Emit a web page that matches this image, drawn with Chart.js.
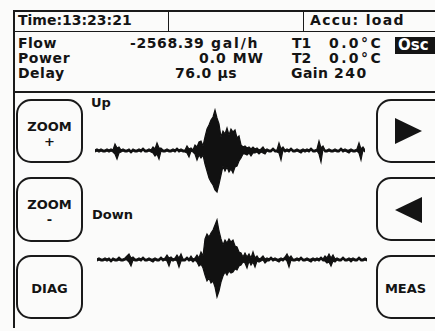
<!DOCTYPE html>
<html>
<head>
<meta charset="utf-8">
<script src="https://cdn.jsdelivr.net/npm/chart.js@4.4.1/dist/chart.umd.min.js"></script>
<style>
  body { margin: 0; background: #fbfbfa; }
  #screen { position: relative; width: 435px; height: 331px; overflow: hidden;
            font-family: "DejaVu Sans", sans-serif; font-weight: bold; color: #141414; }
  .t { position: absolute; font-size: 14px; line-height: 16px; white-space: pre; }
  .ln { position: absolute; background: #1a1a1a; }
  .btn { position: absolute; box-sizing: border-box; border: 2px solid #1a1a1a; border-radius: 15px;
         font-size: 13px; text-align: center; }
  .btn span { position: absolute; left: 0; right: 0; line-height: 14px; }
  .osc { position: absolute; left: 395px; top: 37px; width: 45px; height: 17px; background: #141414;
         color: #fff; font-size: 15px; line-height: 17px; padding-left: 3px; }
  .tri { position: absolute; width: 0; height: 0; border-top: 13px solid transparent; border-bottom: 13px solid transparent; }
  canvas { position: absolute; }
</style>
</head>
<body>
<div id="screen">
  <!-- frame -->
  <div class="ln" style="left:13px;top:10px;width:430px;height:2px"></div>
  <div class="ln" style="left:13px;top:10px;width:2px;height:318px"></div>
  <div class="ln" style="left:13px;top:31px;width:430px;height:1px"></div>
  <div class="ln" style="left:168px;top:10px;width:1px;height:22px"></div>
  <div class="ln" style="left:303px;top:10px;width:1px;height:22px"></div>
  <div class="ln" style="left:13px;top:91px;width:430px;height:2px"></div>

  <div class="t" style="left:18px;top:12px">Time:13:23:21</div>
  <div class="t" style="left:310px;top:12px;letter-spacing:1.3px">Accu: load</div>

  <div class="t" style="left:18px;top:35px;letter-spacing:0.5px">Flow</div>
  <div class="t" style="left:130px;top:35px;letter-spacing:0.6px">-2568.39</div>
  <div class="t" style="left:211px;top:35px;letter-spacing:1.8px">gal/h</div>
  <div class="t" style="left:292px;top:35px">T1</div>
  <div class="t" style="left:329px;top:35px;letter-spacing:2.4px">0.0°C</div>
  <div class="osc">Osc</div>

  <div class="t" style="left:18px;top:50px;letter-spacing:0.6px">Power</div>
  <div class="t" style="left:199px;top:50px;letter-spacing:1px">0.0 MW</div>
  <div class="t" style="left:292px;top:50px">T2</div>
  <div class="t" style="left:329px;top:50px;letter-spacing:2.4px">0.0°C</div>

  <div class="t" style="left:18px;top:65px;letter-spacing:0.5px">Delay</div>
  <div class="t" style="left:175px;top:65px;letter-spacing:0.6px">76.0 µs</div>
  <div class="t" style="left:291px;top:65px;letter-spacing:0.4px">Gain</div>
  <div class="t" style="left:334px;top:65px;letter-spacing:1.5px">240</div>

  <div class="t" style="left:91px;top:95px;font-size:13px">Up</div>
  <div class="t" style="left:92px;top:207px;font-size:13px">Down</div>

  <div class="btn" style="left:16px;top:99px;width:67px;height:64px"><span style="top:19px">ZOOM</span><span style="top:34px">+</span></div>
  <div class="btn" style="left:16px;top:177px;width:67px;height:65px"><span style="top:19px">ZOOM</span><span style="top:34px">-</span></div>
  <div class="btn" style="left:16px;top:255px;width:67px;height:64px"><span style="top:25px">DIAG</span></div>

  <div class="btn" style="left:376px;top:99px;width:75px;height:64px"></div>
  <div class="btn" style="left:376px;top:177px;width:75px;height:64px"></div>
  <div class="btn" style="left:376px;top:255px;width:75px;height:64px"><span style="top:25px;right:16px">MEAS</span></div>
  <div class="tri" style="left:395px;top:118px;border-left:27px solid #141414"></div>
  <div class="tri" style="left:395px;top:197px;border-right:27px solid #141414"></div>

  <canvas id="upChart" width="270" height="100" style="left:95px;top:101px"></canvas>
  <canvas id="downChart" width="270" height="100" style="left:97px;top:210px"></canvas>
</div>
<script>
// received ultrasonic signals as min/max per display column (one column every 2 px)
const upHigh = [
  1, 2, 1, 2, 1, 1, 2, 1, 2, 1,
  7, 3, 4, 1, 2, 1, 1, 2, 0, 2,
  1, 1, 2, 1, 3, 1, 1, 2, 1, 4,
  2, 8, 3, 3, 1, 1, 2, 1, 1, 2,
  1, 3, 1, 2, 1, 1, 5, 2, 3, 1,
  6, 4, 9,
  10, 5, 14, 22, 26, 31, 34, 41, 33, 27, 14, 20, 17, 23, 16, 22, 19, 21, 13, 15, 6, 4,
  5, 3, 4, 2, 4, 2, 3, 1, 2, 4, 1,
  2, 1, 1, 3, 1, 1, 8, 2, 4, 1, 2, 1, 3, 1,
  1, 2, 1, 1, 2, 1, 2, 1, 3, 1, 1, 2, 10, 3, 5, 1, 1, 2, 1, 1,
  2, 1, 1, 3, 1, 2, 1, 1, 2, 1, 1, 2, 8, 2, 4, 1
];
const upLow = [
  -1, 0, -1, 0, -1, -1, 0, -1, 0, -1,
  -3, -8, -2, -1, 0, -1, -1, 0, -2, 0,
  -1, -1, 0, -1, 1, -1, -1, 0, -1, -2,
  -5, -3, -8, 0, -1, -1, 0, -1, -1, 0,
  -1, 1, -1, 0, -1, -1, -2, -6, 0, -1,
  -3, -9, -4,
  -7, -4, -13, -20, -27, -31, -34, -39, -41, -33, -24, -15, -20, -16, -21, -18, -22, -16, -15, -10, -7, -3,
  -3, -4, -2, -5, -2, -2, -1, -3, -1, -2, -3,
  0, -1, -1, 1, -1, -1, -2, -9, 1, -1, 0, -1, 1, -1,
  -1, 0, -1, -2, 0, -1, 0, -1, 1, -1, -1, 0, -3, -11, 2, -1, -1, 0, -1, -1,
  0, -1, -1, 1, -1, 0, -1, -2, 0, -1, -1, 0, -2, -9, 1, -1
];
const downHigh = [
  1, 2, 1, 1, 2, 1, 2, 0, 2, 1,
  1, 3, 1, 1, 2, 4, 6, 2, 3, 1,
  1, 2, 1, 3, 1, 1, 2, 1, 1, 2,
  1, 1, 3, 1, 2, 5, 2, 3, 1, 2,
  5, 2, 6, 1, 1, 3, 1, 4, 1, 2, 5, 2,
  8, 4, 21, 26, 23, 27, 30, 35, 40, 29, 21, 15, 20, 17, 21, 18, 20, 14, 13, 8, 7, 3,
  7, 3, 6, 2, 8, 2, 4, 1, 2, 4, 1, 2,
  1, 3, 1, 2, 1, 1, 2, 1, 3, 6, 2, 4, 1, 1,
  2, 1, 3, 1, 1, 2, 1, 1, 2, 1, 2, 1, 3, 1, 4, 2, 6, 2, 5, 1,
  2, 1, 1, 3, 1, 1, 2, 1, 2, 1, 1, 3, 1, 1, 2, 1
];
const downLow = [
  -1, 0, -1, -1, 0, -1, 0, -2, 0, -1,
  -1, 0, -1, -1, 0, 0, -2, -6, 0, -1,
  -1, 0, -1, 1, -1, -1, 0, -1, -2, 0,
  -1, -1, 1, -1, 0, -1, -6, 0, -1, 0,
  -1, -7, -1, -1, -1, 1, -1, 0, -2, 0, -2, -6,
  -4, -8, -15, -21, -18, -23, -21, -27, -37, -31, -22, -16, -12, -15, -11, -13, -12, -9, -10, -6, -5, -2,
  -3, -8, -1, -5, -2, -7, -1, -2, -1, 0, -3, -1,
  -1, 1, -1, 0, -1, -2, 0, -1, 1, -1, -7, 0, -1, -1,
  0, -1, 1, -1, -1, 0, -1, -2, 0, -1, 0, -1, 1, -1, -1, -3, -2, -6, -1, -2,
  0, -1, -1, 1, -1, -1, 0, -2, 0, -1, -1, 1, -1, -1, 0, -1
];
const columns = upHigh.map((v, i) => i);

function drawTrace(id, high, low) {
  const common = {
    borderColor: '#111',
    backgroundColor: '#111',
    borderWidth: 1.2,
    pointRadius: 0,
    tension: 0,
    clip: false
  };
  return new Chart(document.getElementById(id), {
    type: 'line',
    data: {
      labels: columns,
      datasets: [
        Object.assign({ data: high, fill: false }, common),
        Object.assign({ data: low, fill: '-1' }, common)
      ]
    },
    options: {
      responsive: false,
      animation: false,
      layout: { padding: 0 },
      plugins: { legend: { display: false }, tooltip: { enabled: false } },
      scales: {
        x: { display: false, offset: false },
        y: { display: false, min: -50, max: 50 }
      }
    }
  });
}

drawTrace('upChart', upHigh, upLow);
drawTrace('downChart', downHigh, downLow);
</script>
</body>
</html>
